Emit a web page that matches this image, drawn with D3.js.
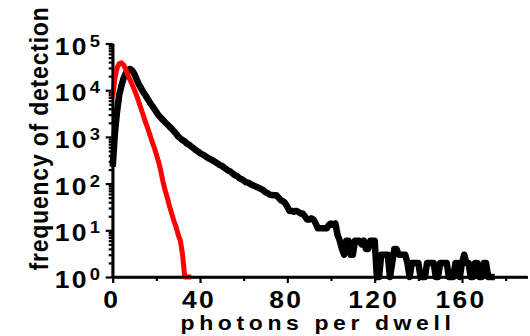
<!DOCTYPE html>
<html>
<head>
<meta charset="utf-8">
<script src="https://cdn.jsdelivr.net/npm/d3@7/dist/d3.min.js"></script>
<style>
  html, body { margin: 0; padding: 0; background: #fff; }
  svg { display: block; }
  text { font-family: "Liberation Sans", Arial, sans-serif; font-weight: bold; fill: #000; }
</style>
</head>
<body>
<svg id="chart" width="530" height="336"></svg>
<script>
// Photon-count histograms, one bin per photon count (bin 0, 1, 2, ...)
const blackCounts = [
  230, 1200, 3500, 8000, 12500, 18000, 23000, 27000, 28500, 26000,
  22000, 17000, 13200, 11000, 9100, 7800, 6500, 5500, 4700, 4000,
  3400, 2900, 2600, 2300, 2050, 1860, 1660, 1500, 1320, 1180,
  1020, 930, 850, 800, 720, 680, 620, 575, 525, 490,
  450, 425, 400, 370, 345, 330, 310, 290, 270, 250,
  240, 220, 205, 190, 180, 165, 150, 145, 130, 125,
  117, 107, 105, 98, 93, 89, 85, 81, 76, 72,
  65, 62, 58, 57, 56, 56, 50, 44, 42, 38,
  32, 26, 26, 25, 26, 25, 23, 23, 20, 17,
  17, 18, 17, 14, 11, 11, 11, 11, 11, 13,
  14, 13, 14, 8, 6, 4, 3, 6, 6, 3,
  3, 6, 6, 6, 5, 6, 4, 4, 6, 6,
  6, 1, 1, 3, 3, 3, 3, 1, 2, 4,
  4, 3, 3, 3, 3, 2, 1, 2, 2, 2,
  2, 1, 1, 1, 2, 2, 2, 2, 1, 1,
  2, 2, 2, 2, 1, 1, 1, 2, 2, 1,
  2, 3, 2, 2, 1, 1, 2, 2, 1, 1,
  2, 2, 1, 1, 1, 1
];
const redCounts = [
  7000, 18000, 30000, 37000, 38500, 35000, 28000, 21000, 16500, 13000,
  10000, 7600, 5500, 4000, 2900, 2100, 1550, 1120, 800, 600,
  420, 295, 190, 112, 72, 50, 33, 23, 16, 12,
  8, 6, 3, 1, 1, 1, 1
];

const xTicks = [0, 40, 80, 120, 160];
const xMinorTicks = [20, 60, 100, 140, 180];
const yTicks = [1, 10, 100, 1000, 10000, 100000];
const xTitle = "photons per dwell";
const yTitle = "frequency of detection";

const svg = d3.select("#chart");

const x = d3.scaleLinear().domain([0, 190]).range([112.7, 527.5]);
const y = d3.scaleLog().domain([1, 1e5]).range([277, 43.5]);

// minor log ticks: 2..9 in every decade
const yMinor = [];
for (let d = 1; d < 1e5; d *= 10) for (let k = 2; k <= 9; k++) yMinor.push(d * k);

const axisStroke = 2.6;

function styleAxis(g) {
  g.selectAll(".domain").attr("stroke", "#000").attr("stroke-width", axisStroke);
  g.selectAll(".tick line").attr("stroke", "#000").attr("stroke-width", 2.2);
  g.selectAll(".tick text").remove();
}

// X axis: minor then major ticks
svg.append("g").attr("transform", `translate(0,${y(1)})`)
  .call(d3.axisBottom(x).tickValues(xMinorTicks).tickSize(4).tickSizeOuter(0))
  .call(styleAxis)
  .select(".domain").remove();
svg.append("g").attr("transform", `translate(0,${y(1)})`)
  .call(d3.axisBottom(x).tickValues(xTicks).tickSize(6).tickSizeOuter(0))
  .call(styleAxis);

// Y axis
svg.append("g").attr("transform", `translate(${x(0)},0)`)
  .call(d3.axisLeft(y).tickValues(yMinor).tickSize(4).tickSizeOuter(0))
  .call(styleAxis)
  .select(".domain").remove();
svg.append("g").attr("transform", `translate(${x(0)},0)`)
  .call(d3.axisLeft(y).tickValues(yTicks).tickSize(7).tickSizeOuter(0))
  .call(styleAxis);

// Curves
const line = d3.line()
  .x((d, i) => x(i))
  .y(d => y(Math.max(1, d)))
  .curve(d3.curveLinear);

svg.append("path").datum(blackCounts)
  .attr("d", line).attr("fill", "none").attr("stroke", "#000")
  .attr("stroke-width", 6.5).attr("stroke-linejoin", "round").attr("stroke-linecap", "butt");
svg.append("path").datum(redCounts)
  .attr("d", line).attr("fill", "none").attr("stroke", "#ff0000")
  .attr("stroke-width", 5).attr("stroke-linejoin", "round").attr("stroke-linecap", "butt");

// Redraw axis lines on top of the curves
svg.append("line").attr("x1", x(0)).attr("x2", x(0)).attr("y1", y(1e5)).attr("y2", y(1))
  .attr("stroke", "#000").attr("stroke-width", axisStroke);
svg.append("line").attr("x1", x(0) - axisStroke / 2).attr("x2", x(190)).attr("y1", y(1)).attr("y2", y(1))
  .attr("stroke", "#000").attr("stroke-width", axisStroke);

// X tick labels
const stretch = 1.15;
xTicks.forEach(v => {
  svg.append("text")
    .attr("transform", `translate(${x(v) - 1},308) scale(${stretch},1)`)
    .attr("text-anchor", "middle")
    .style("font-size", "23px")
    .style("letter-spacing", "2px")
    .text(String(v));
});

// Y tick labels: 10 with exponent
yTicks.forEach(v => {
  const exp = Math.round(Math.log10(v));
  const t = svg.append("text")
    .attr("transform", `translate(100,${y(v) + 11}) scale(${stretch},1)`)
    .attr("text-anchor", "end")
    .style("font-size", "23px");
  t.append("tspan").style("letter-spacing", "2px").text("10");
  t.append("tspan").attr("dy", -8).attr("dx", 1).style("font-size", "16px").text(String(exp));
});

// Axis titles
svg.append("text")
  .attr("transform", `translate(318,330) scale(${stretch},1)`)
  .attr("text-anchor", "middle")
  .style("font-size", "20px")
  .style("letter-spacing", "4px")
  .text(xTitle);

svg.append("text")
  .attr("transform", `translate(48,138.5) rotate(-90) scale(1,${stretch})`)
  .attr("text-anchor", "middle")
  .style("font-size", "23px")
  .style("letter-spacing", "0.8px")
  .text(yTitle);
</script>
</body>
</html>
